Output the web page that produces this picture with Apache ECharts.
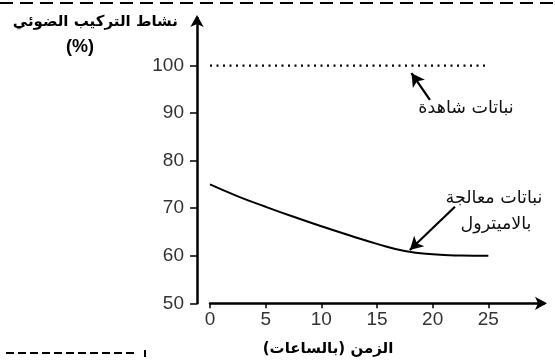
<!DOCTYPE html>
<html><head><meta charset="utf-8">
<script src="https://cdn.jsdelivr.net/npm/echarts@6/dist/echarts.min.js"></script>
<style>html,body{margin:0;padding:0;background:#fff}#c{width:555px;height:361px}</style>
</head><body><div id="c"></div>
<script>
// Data
const hours = [0, 2.5, 5, 7.5, 10, 12.5, 15, 17.5, 20, 22.5, 25];
const treated = [75, 72.5, 70.3, 68.2, 66.2, 64.3, 62.5, 61, 60.3, 60.05, 60];
const controlHours = [0, 25];
const control = [100, 100];
const xTicks = [0, 5, 10, 15, 20, 25];
const yTicks = [50, 60, 70, 80, 90, 100];
const yTitle = 'نشاط التركيب الضوئي';
const yUnit = '(%)';
const xTitle = 'الزمن (بالساعات)';
const controlLabel = 'نباتات شاهدة';
const treatedLabel1 = 'نباتات معالجة';
const treatedLabel2 = 'بالاميترول';
// annotation arrows (data space): [tail, head]
const controlArrow = [[19.75, 92.8], [18.1, 98.4]];
const treatedArrow = [[22.0, 70.3], [17.95, 61.2]];

const chart = echarts.init(document.getElementById('c'), null, {renderer: 'canvas'});
const numFont = 'Liberation Sans';
const arFont = 'DejaVu Sans, Noto Sans, sans-serif';
const arrowLine = (pts) => ({
  silent: true, symbol: ['none', 'arrow'], symbolSize: [11, 13],
  lineStyle: {color: '#000', width: 2.2, type: 'solid'},
  label: {show: false},
  data: [[{coord: pts[0]}, {coord: pts[1]}]]
});
chart.setOption({
  animation: false,
  backgroundColor: '#fff',
  grid: {left: 210, right: 11, top: 18, bottom: 57.7},
  xAxis: {
    type: 'value', min: 0, max: 30, interval: 5,
    axisLine: {show: true, onZero: false, lineStyle: {color: '#000', width: 2.5}, symbol: ['none', 'arrow'], symbolSize: [10, 12], symbolOffset: [0, 3]},
    axisTick: {show: true, inside: false, length: 5, lineStyle: {color: '#000', width: 1.5}, customValues: xTicks},
    axisLabel: {show: true, color: '#333', fontFamily: numFont, fontSize: 19, margin: 7, customValues: xTicks},
    splitLine: {show: false}
  },
  yAxis: {
    type: 'value', min: 50, max: 110, interval: 10, offset: 13,
    axisLine: {show: true, onZero: false, lineStyle: {color: '#000', width: 2.5}, symbol: ['none', 'arrow'], symbolSize: [10, 12], symbolOffset: [0, 3]},
    axisTick: {show: true, inside: false, length: 7, lineStyle: {color: '#000', width: 1.5}, customValues: yTicks},
    axisLabel: {show: true, color: '#333', fontFamily: numFont, fontSize: 19, margin: 13, customValues: yTicks},
    splitLine: {show: false}
  },
  series: [
    {
      type: 'line', name: 'control', data: controlHours.map((h, i) => [h, control[i]]),
      showSymbol: false, lineStyle: {color: '#000', width: 2.2, type: [2, 4.5]},
      markLine: arrowLine(controlArrow)
    },
    {
      type: 'line', name: 'treated', smooth: true, data: hours.map((h, i) => [h, treated[i]]),
      showSymbol: false, lineStyle: {color: '#000', width: 2},
      markLine: arrowLine(treatedArrow)
    }
  ],
  graphic: [
    {type: 'line', shape: {x1: 0, y1: 3, x2: 555, y2: 3}, style: {stroke: '#000', lineWidth: 2, lineDash: [13, 7]}},
    {type: 'line', shape: {x1: 6, y1: 353, x2: 136, y2: 353}, style: {stroke: '#000', lineWidth: 2, lineDash: [8, 4]}},
    {type: 'line', shape: {x1: 145, y1: 350, x2: 145, y2: 357}, style: {stroke: '#000', lineWidth: 2}},
    {type: 'text', style: {text: yTitle, x: 178, y: 22, align: 'right', verticalAlign: 'middle', font: 'bold 15px ' + arFont, fill: '#000'}},
    {type: 'text', style: {text: yUnit, x: 80, y: 47, align: 'center', verticalAlign: 'middle', font: 'bold 18px Liberation Sans, Arial, sans-serif', fill: '#000'}},
    {type: 'text', style: {text: xTitle, x: 328, y: 349, align: 'center', verticalAlign: 'middle', font: 'bold 15px ' + arFont, fill: '#000'}},
    {type: 'text', style: {text: controlLabel, x: 466, y: 108, align: 'center', verticalAlign: 'middle', font: '17.5px ' + arFont, fill: '#111'}},
    {type: 'text', style: {text: treatedLabel1, x: 494, y: 198, align: 'center', verticalAlign: 'middle', font: '17.5px ' + arFont, fill: '#111'}},
    {type: 'text', style: {text: treatedLabel2, x: 496, y: 224, align: 'center', verticalAlign: 'middle', font: '17.5px ' + arFont, fill: '#111'}}
  ]
});
</script></body></html>
